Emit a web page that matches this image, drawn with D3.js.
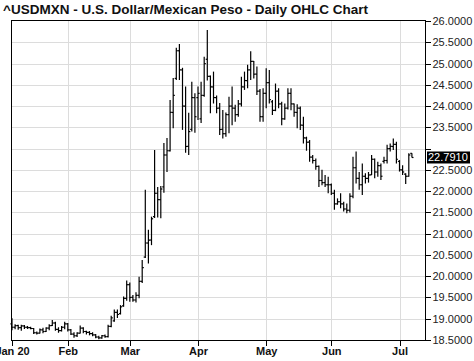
<!DOCTYPE html>
<html><head><meta charset="utf-8">
<script src="https://cdn.jsdelivr.net/npm/d3@7/dist/d3.min.js"></script>
<style>body{margin:0;background:#fff}svg{display:block}</style>
</head><body>
<script>
const title = "^USDMXN - U.S. Dollar/Mexican Peso - Daily OHLC Chart";
const firstDay = "2020-01-08";
const monthLabels = ["Jan 20","Feb","Mar","Apr","May","Jun","Jul"];
const yTicks = [18.5,19,19.5,20,20.5,21,21.5,22,22.5,23,23.5,24,24.5,25,25.5,26];
const lastPrice = 22.7910;

const open = [18.88,18.80,18.84,18.79,18.83,18.80,18.79,18.77,18.67,18.66,18.74,18.70,18.78,18.84,18.90,18.75,18.72,18.80,
18.88,18.74,18.64,18.60,18.66,18.78,18.70,18.68,18.65,18.62,18.57,18.55,18.60,18.58,18.82,18.95,19.15,19.12,19.30,19.48,
19.80,19.50,19.44,19.55,19.88,20.45,20.78,20.85,21.40,21.95,21.80,22.10,22.85,22.95,23.85,24.65,25.30,24.85,24.00,23.05,23.45,24.20,
24.20,23.70,24.25,25.10,24.70,24.45,24.20,23.95,23.45,23.35,23.80,24.00,23.95,23.80,24.05,24.45,24.60,24.85,25.05,24.75,24.35,23.75,
24.30,24.55,24.10,23.90,24.35,24.05,23.70,23.95,24.30,24.05,23.85,23.95,23.55,23.25,23.15,22.80,22.72,22.58,22.25,22.20,22.15,
22.15,21.95,21.70,21.75,21.70,21.58,21.55,21.88,22.55,22.30,22.15,22.35,22.30,22.38,22.75,22.45,22.60,22.70,22.72,23.00,23.05,23.10,
22.70,22.50,22.40,22.35,22.89];
const high = [19.01,18.87,18.86,18.86,18.85,18.83,18.81,18.78,18.70,18.77,18.79,18.80,18.87,18.97,18.93,18.80,18.83,18.93,
18.90,18.76,18.68,18.68,18.84,18.80,18.72,18.71,18.68,18.64,18.60,18.62,18.63,18.86,19.07,19.22,19.22,19.32,19.52,19.90,
19.85,19.56,19.62,19.99,20.38,22.03,21.09,21.40,22.97,22.10,22.12,23.13,23.25,24.14,24.66,25.37,25.46,24.90,24.46,23.84,24.57,24.30,
24.46,24.57,25.16,25.79,24.72,24.81,24.25,24.07,23.91,23.85,24.22,24.46,24.03,24.14,24.69,24.81,24.97,25.29,25.06,24.93,24.40,24.42,
24.89,24.85,24.14,24.53,24.42,24.10,24.06,24.42,24.42,24.06,24.04,23.99,23.75,23.28,23.20,22.85,22.77,22.60,22.50,22.38,22.34,
22.18,22.03,21.83,21.95,21.75,21.71,21.95,22.81,22.93,22.45,22.65,22.42,22.45,22.85,22.77,22.69,22.65,22.81,23.09,23.12,23.24,23.16,
22.73,22.61,22.42,22.89,22.89];
const low = [18.73,18.75,18.74,18.72,18.76,18.76,18.75,18.64,18.63,18.65,18.66,18.69,18.73,18.83,18.72,18.67,18.70,18.75,
18.70,18.62,18.55,18.57,18.65,18.66,18.63,18.61,18.59,18.54,18.52,18.53,18.55,18.56,18.80,18.93,19.02,19.10,19.28,19.42,
19.40,19.40,19.38,19.48,19.84,20.43,20.30,20.73,21.37,21.38,21.36,21.96,22.45,22.93,23.48,24.61,24.61,23.44,22.90,22.85,23.40,23.37,
23.67,23.60,24.22,24.60,23.83,24.06,23.83,23.32,23.24,23.28,23.36,23.55,23.63,23.75,23.99,24.38,24.42,24.61,24.65,24.26,23.63,23.63,
23.95,24.06,23.79,23.88,23.95,23.55,23.68,23.92,23.90,23.75,23.48,23.44,23.12,22.95,22.69,22.65,22.50,22.10,22.14,22.10,21.95,
21.91,21.56,21.68,21.60,21.52,21.48,21.50,21.83,22.18,22.03,21.91,22.18,22.20,22.38,22.30,22.34,22.26,22.65,22.65,22.93,22.97,22.65,
22.46,22.38,22.17,22.34,22.79];
const close = [18.80,18.84,18.79,18.83,18.80,18.79,18.77,18.67,18.66,18.74,18.70,18.78,18.84,18.90,18.75,18.72,18.80,18.88,
18.74,18.64,18.60,18.66,18.78,18.70,18.68,18.65,18.62,18.57,18.55,18.60,18.58,18.82,19.02,19.15,19.10,19.28,19.48,19.80,
19.50,19.44,19.55,19.88,20.20,20.78,20.85,21.35,21.95,21.80,22.05,22.85,22.95,23.85,24.25,25.30,24.85,24.00,23.05,23.40,24.20,23.75,
24.30,24.25,25.00,24.70,24.45,24.20,23.95,23.45,23.35,23.80,24.00,23.95,23.80,24.05,24.45,24.60,24.85,25.05,24.75,24.35,23.75,24.30,
24.55,24.15,23.90,24.35,24.05,23.70,23.95,24.30,24.05,23.85,23.95,23.55,23.25,23.15,22.80,22.72,22.58,22.25,22.20,22.15,22.15,
21.95,21.70,21.75,21.70,21.58,21.55,21.88,22.55,22.30,22.15,22.35,22.30,22.38,22.75,22.45,22.60,22.35,22.72,23.00,23.05,23.10,22.75,
22.50,22.45,22.35,22.85,22.791];

const W = 474, H = 361;
const L = 12, R = 425, T = 21, B = 340;
const n = open.length;

// trading days (weekdays) starting from firstDay
const days = [];
{ let d = new Date(firstDay + "T12:00:00"); while (days.length < n) { const wd = d.getDay(); if (wd !== 0 && wd !== 6) days.push(new Date(d)); d.setDate(d.getDate() + 1); } }
const bars = d3.range(n).map(i => ({i, date: days[i], o: open[i], h: high[i], l: low[i], c: close[i]}));
const monthStarts = [];
bars.forEach((b, i) => { if (i === 0 || b.date.getMonth() !== bars[i-1].date.getMonth()) monthStarts.push(i); });

const x = d3.scaleLinear().domain([0, n - 1]).range([12, 411.9]);
const y = d3.scaleLinear().domain([18.5, 26]).range([B, T]);

const svg = d3.select("body").append("svg").attr("width", W).attr("height", H);
svg.append("rect").attr("width", W).attr("height", H).attr("fill", "#fff");

svg.append("text").attr("x", 3).attr("y", 14).text(title)
  .attr("font-family", "Liberation Sans, Arial, sans-serif").attr("font-size", 13.5).attr("font-weight", "bold").attr("fill", "#111");

const crisp = v => Math.round(v) + 0.5;
// grid
const grid = svg.append("g").attr("stroke", "#dcdcdc").attr("stroke-width", 1).attr("shape-rendering", "crispEdges");
grid.selectAll("line.h").data(yTicks.slice(1, -1)).join("line")
  .attr("x1", L).attr("x2", R).attr("y1", d => crisp(y(d))).attr("y2", d => crisp(y(d)));
grid.selectAll("line.v").data(monthStarts.slice(1)).join("line")
  .attr("y1", T).attr("y2", B).attr("x1", d => crisp(x(d))).attr("x2", d => crisp(x(d)));

// right axis (labels hidden where the last-price tag sits)
const ly = y(lastPrice);
const yAxis = d3.axisRight(y).tickValues(yTicks)
  .tickFormat(d => Math.abs(y(d) - ly) < 10 ? "" : d3.format(".4f")(d)).tickSize(5).tickPadding(2);
const ya = svg.append("g").attr("transform", `translate(${R + 0.5},0)`).call(yAxis);
ya.select(".domain").remove();
ya.selectAll("line").attr("stroke", "#000").attr("shape-rendering", "crispEdges");
ya.selectAll("text").attr("font-family", "Liberation Sans, Arial, sans-serif").attr("font-size", 11).attr("fill", "#222");

// bottom axis
const xAxis = d3.axisBottom(x).tickValues(monthStarts).tickFormat((d, k) => monthLabels[k]).tickSize(5).tickPadding(2);
const xa = svg.append("g").attr("transform", `translate(0,${B + 0.5})`).call(xAxis);
xa.select(".domain").remove();
xa.selectAll("line").attr("stroke", "#000").attr("shape-rendering", "crispEdges");
xa.selectAll("text").attr("font-family", "Liberation Sans, Arial, sans-serif").attr("font-size", 11).attr("font-weight", "bold").attr("fill", "#111");

// frame
svg.append("rect").attr("x", L - 0.5).attr("y", T - 0.5).attr("width", R - L + 1).attr("height", B - T + 1)
  .attr("fill", "none").attr("stroke", "#000").attr("stroke-width", 1).attr("shape-rendering", "crispEdges");

// OHLC bars
const g = svg.append("g").attr("stroke", "#000").attr("stroke-width", 1.2);
const tk = 1.6;
g.selectAll("line.hl").data(bars).join("line").attr("class", "hl")
  .attr("x1", d => x(d.i)).attr("x2", d => x(d.i)).attr("y1", d => y(d.h)).attr("y2", d => y(d.l));
g.selectAll("line.o").data(bars).join("line").attr("class", "o")
  .attr("x1", d => x(d.i) - tk).attr("x2", d => x(d.i)).attr("y1", d => y(d.o)).attr("y2", d => y(d.o));
g.selectAll("line.c").data(bars).join("line").attr("class", "c")
  .attr("x1", d => x(d.i)).attr("x2", d => x(d.i) + tk).attr("y1", d => y(d.c)).attr("y2", d => y(d.c));

// last price tag
svg.append("rect").attr("x", R + 2).attr("y", ly - 6).attr("width", 43).attr("height", 12).attr("fill", "#000");
svg.append("text").attr("x", R + 3).attr("y", ly).attr("dy", "0.35em").text(d3.format(".4f")(lastPrice))
  .attr("font-family", "Liberation Sans, Arial, sans-serif").attr("font-size", 11).attr("fill", "#fff");
</script>
</body></html>
